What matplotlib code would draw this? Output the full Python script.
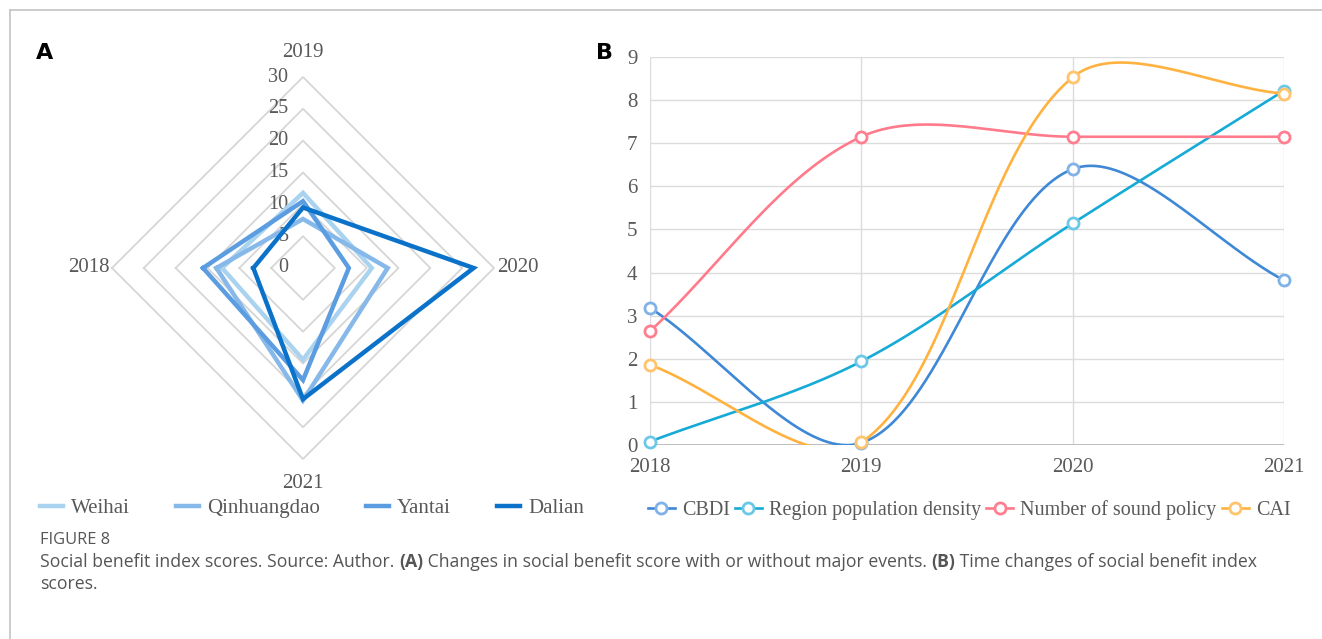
import numpy as np
import matplotlib.pyplot as plt
from matplotlib.lines import Line2D

W, H = 1322, 639

# panel A data (radar)
years = ["2018", "2019", "2020", "2021"]
cities = ["Weihai", "Qinhuangdao", "Yantai", "Dalian"]
weihai = [12.7, 11.8, 10.8, 14.4]
qinhuangdao = [13.6, 7.7, 13.3, 20.8]
yantai = [15.7, 10.5, 7.2, 17.6]
dalian = [7.8, 9.5, 26.8, 20.6]
radar_ticks = [0, 5, 10, 15, 20, 25, 30]
city_colors = ["#a9d3ef", "#86b9e9", "#5b9de0", "#0b72c9"]

# panel B data (smoothed lines)
yr = [2018, 2019, 2020, 2021]
series = ["CBDI", "Region population density", "Number of sound policy", "CAI"]
cbdi = [3.18, 0.05, 6.40, 3.82]
density = [0.08, 1.94, 5.14, 8.22]
policy = [2.64, 7.15, 7.15, 7.15]
cai = [1.86, 0.06, 8.53, 8.15]
line_colors = ["#3f88d6", "#16aad6", "#ff7b8b", "#ffb23f"]
mark_colors = ["#80b2e8", "#6cc8e8", "#ff7f90", "#ffc46c"]

txt = "#595959"
serif = "Liberation Serif"


def smooth(x, y, sx, sy, n=80):
    # excel-like smoothed line, cubic bezier with length weighted tangents
    p = np.column_stack([np.asarray(x, float) * sx, np.asarray(y, float) * sy])
    m = len(p)
    out = [p[:1]]
    for i in range(m - 1):
        p0 = p[i - 1] if i > 0 else p[i]
        p1, p2 = p[i], p[i + 1]
        p3 = p[i + 2] if i + 2 < m else p[i + 1]
        l01 = np.linalg.norm(p1 - p0)
        l12 = np.linalg.norm(p2 - p1)
        l23 = np.linalg.norm(p3 - p2)
        c1 = p1 + (p2 - p0) / 3 * l12 / (l01 + l12)
        c2 = p2 - (p3 - p1) / 3 * l12 / (l12 + l23)
        t = np.linspace(0, 1, n)[1:, None]
        out.append((1 - t)**3 * p1 + 3 * (1 - t)**2 * t * c1
                   + 3 * (1 - t) * t**2 * c2 + t**3 * p2)
    pts = np.vstack(out)
    return pts[:, 0] / sx, pts[:, 1] / sy


fig = plt.figure(figsize=(W / 100, H / 100), dpi=100)

# page border
fig.add_artist(Line2D([10 / W, 1], [1 - 10 / H, 1 - 10 / H], transform=fig.transFigure,
                      color="#c4c4c4", lw=1.2))
fig.add_artist(Line2D([10 / W, 10 / W], [0, 1 - 10 / H], transform=fig.transFigure,
                      color="#c4c4c4", lw=1.2))

fig.text(36 / W, 1 - 53 / H, "A", fontsize=16, fontweight="bold", family="DejaVu Sans",
         va="center", ha="left")
fig.text(596 / W, 1 - 53 / H, "B", fontsize=16, fontweight="bold", family="DejaVu Sans",
         va="center", ha="left")

# ---- panel A: radar
R = 30 * 220 / 191
axA = fig.add_axes([83 / W, (H - 488) / H, 440 / W, 440 / H])
axA.set_xlim(-R, R)
axA.set_ylim(-R, R)
axA.axis("off")

theta = np.pi / 2 * (np.arange(len(years)) - 1)
sx, cy = np.sin(theta), np.cos(theta)

for r in radar_ticks[1:]:
    axA.plot(np.append(r * sx, r * sx[0]), np.append(r * cy, r * cy[0]),
             color="#d6d6d6", lw=1.3, clip_on=False, zorder=1)
for r in radar_ticks:
    axA.text(-2.3, r, str(r), ha="right", va="center", fontsize=14.5, family=serif,
             color=txt)

for name, vals, c in zip(cities, [weihai, qinhuangdao, yantai, dalian], city_colors):
    v = np.array(vals)
    axA.plot(np.append(v * sx, v[0] * sx[0]), np.append(v * cy, v[0] * cy[0]),
             color=c, lw=3.2, solid_joinstyle="miter", clip_on=False, zorder=3, label=name)

gap = 0.45
for i, y in enumerate(years):
    if sx[i] > 0.5:
        axA.text(30 + gap, 0, y, ha="left", va="center", fontsize=15, family=serif, color=txt)
    elif sx[i] < -0.5:
        axA.text(-30 - gap, 0, y, ha="right", va="center", fontsize=15, family=serif, color=txt)
    elif cy[i] > 0.5:
        axA.text(0, 33.8, y, ha="center", va="center", fontsize=15, family=serif, color=txt)
    else:
        axA.text(0, -33.9, y, ha="center", va="center", fontsize=15, family=serif, color=txt)

legA = fig.legend(handles=axA.get_lines()[-4:], labels=cities, loc="center",
                  bbox_to_anchor=(312 / W, 1 - 508 / H), ncol=4, frameon=False,
                  prop={"family": serif, "size": 15}, handlelength=1.1, handletextpad=0.4,
                  columnspacing=2.2, borderpad=0)
for t in legA.get_texts():
    t.set_color(txt)

# ---- panel B: smoothed lines
axB = fig.add_axes([650 / W, (H - 445) / H, 634 / W, 388 / H])
axB.set_xlim(2018, 2021)
axB.set_ylim(0, 9)
for s in axB.spines.values():
    s.set_visible(False)
axB.set_yticks(range(10))
axB.set_xticks(yr)
axB.set_xticklabels(years)
axB.tick_params(length=0, labelsize=15, labelcolor=txt, pad=9)
for lab in axB.get_xticklabels() + axB.get_yticklabels():
    lab.set_family(serif)
axB.grid(True, color="#dcdcdc", lw=1.0)
axB.axhline(0, color="#bdbdbd", lw=1.4, zorder=2)
axB.set_axisbelow(True)

ppx = 634 / 3
ppy = 388 / 9
handles = []
for name, vals, lc, mc in zip(series, [cbdi, density, policy, cai], line_colors, mark_colors):
    xs, ys = smooth(yr, vals, ppx, ppy)
    axB.plot(xs, ys, color=lc, lw=1.9, zorder=3)
    axB.plot(yr, vals, "o", ms=8, mfc="white", mec=mc, mew=2, clip_on=False, zorder=4)
    handles.append(Line2D([], [], color=lc, lw=1.9, marker="o", ms=8, mfc="white",
                          mec=mc, mew=2))

legB = fig.legend(handles=handles, labels=series, loc="center",
                  bbox_to_anchor=(969 / W, 1 - 510 / H), ncol=4, frameon=False,
                  prop={"family": serif, "size": 14.5}, handlelength=1.35, handletextpad=0.35,
                  columnspacing=0.25, borderpad=0)
for t in legB.get_texts():
    t.set_color(txt)

# ---- caption
cap = "Open Sans"
fig.text(40 / W, 1 - 540 / H, "FIGURE 8", fontsize=11.8, family=cap, color="#555555",
         va="center", ha="left")

pieces = [("Social benefit index scores. Source: Author. ", "normal"),
          ("(A)", "bold"),
          (" Changes in social benefit score with or without major events. ", "normal"),
          ("(B)", "bold"),
          (" Time changes of social benefit index", "normal")]
fig.canvas.draw()
rend = fig.canvas.get_renderer()
x0 = 40
for s, w in pieces:
    t = fig.text(x0 / W, 1 - 562 / H, s, fontsize=12.7, family=cap, color="#555555",
                 fontweight=w, va="center", ha="left")
    x0 += t.get_window_extent(rend).width
fig.text(40 / W, 1 - 584 / H, "scores.", fontsize=12.7, family=cap, color="#555555",
         va="center", ha="left")

fig.savefig("out.png", dpi=100)
